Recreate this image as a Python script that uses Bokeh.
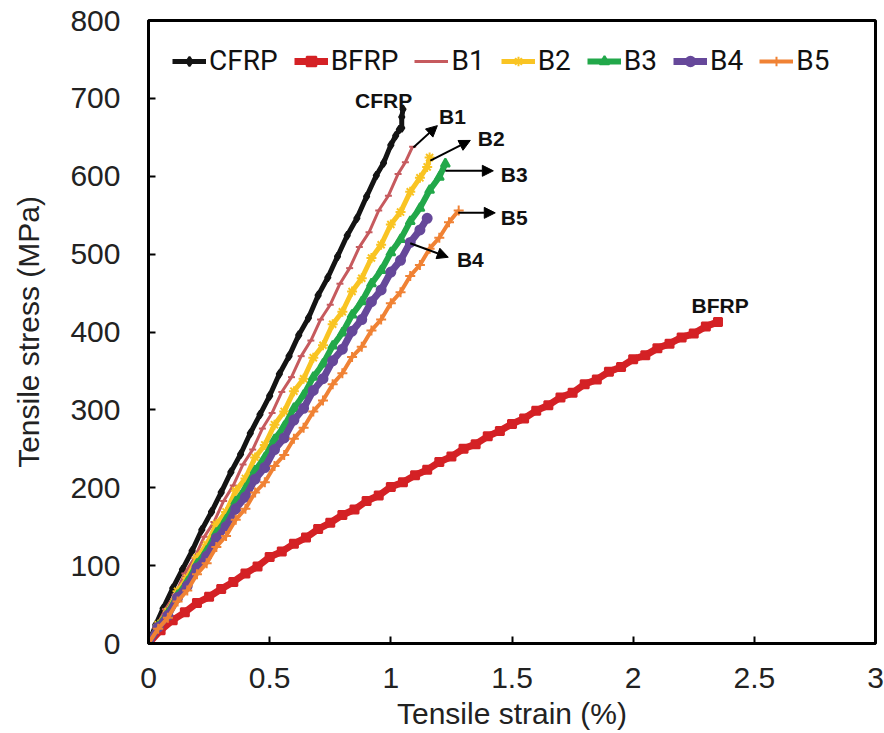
from bokeh.plotting import figure
from bokeh.models import (Range1d, FixedTicker, CustomJSTickFormatter, Legend, LegendItem,
                          Label, Arrow, NormalHead)
from bokeh.embed import file_html
from bokeh.resources import INLINE

# ---------------- data ----------------
cfrp_x = [0, 0.03, 0.06, 0.10, 0.14, 0.18, 0.22, 0.26, 0.30, 0.34, 0.38, 0.42, 0.46, 0.50, 0.54, 0.58,
          0.62, 0.66, 0.70, 0.74, 0.78, 0.82, 0.86, 0.90, 0.94, 0.97, 1.00, 1.02, 1.035, 1.045, 1.045, 1.05]
cfrp_y = [0, 24, 45, 71, 95, 119, 146, 169, 194, 220, 243, 270, 294, 318, 346, 369,
          396, 418, 447, 470, 497, 524, 546, 574, 601, 617, 640, 652, 660, 662, 676, 686]

bfrp_x = [0.00, 0.05, 0.10, 0.15, 0.20, 0.25, 0.30, 0.35, 0.40, 0.45, 0.50, 0.55, 0.60, 0.65, 0.70, 0.75,
          0.80, 0.85, 0.90, 0.95, 1.00, 1.05, 1.10, 1.15, 1.20, 1.25, 1.30, 1.35, 1.40, 1.45, 1.50, 1.55,
          1.60, 1.65, 1.70, 1.75, 1.80, 1.85, 1.90, 1.95, 2.00, 2.05, 2.10, 2.15, 2.20, 2.25, 2.30, 2.35]
bfrp_y = [0, 17, 30, 40, 52, 60, 70, 79, 90, 99, 111, 118, 128, 136, 147, 155,
          165, 172, 183, 190, 201, 207, 216, 223, 233, 240, 250, 256, 266, 273, 282, 289,
          299, 306, 316, 322, 333, 339, 349, 355, 365, 370, 379, 385, 393, 398, 407, 413]

b1_x = [0, 0.03, 0.07, 0.11, 0.15, 0.19, 0.23, 0.27, 0.31, 0.35, 0.39, 0.43, 0.47, 0.51, 0.55, 0.59,
        0.63, 0.67, 0.71, 0.75, 0.79, 0.83, 0.87, 0.91, 0.95, 0.99, 1.03, 1.06, 1.09]
b1_y = [0, 20, 44, 63, 90, 110, 137, 156, 183, 203, 230, 249, 276, 296, 323, 342,
        369, 389, 416, 435, 462, 482, 509, 528, 556, 575, 603, 618, 638]

b2_x = [0, 0.04, 0.08, 0.12, 0.16, 0.20, 0.24, 0.28, 0.32, 0.36, 0.40, 0.44, 0.48, 0.52, 0.56, 0.60,
        0.64, 0.68, 0.72, 0.76, 0.80, 0.84, 0.88, 0.92, 0.96, 1.00, 1.04, 1.08, 1.12, 1.15, 1.16]
b2_y = [0, 24, 41, 67, 84, 110, 127, 153, 169, 196, 212, 239, 255, 281, 298, 324,
        340, 367, 383, 410, 426, 452, 469, 495, 512, 538, 554, 580, 598, 612, 624]

b3_x = [0, 0.04, 0.08, 0.12, 0.16, 0.20, 0.24, 0.28, 0.32, 0.36, 0.40, 0.44, 0.48, 0.52, 0.56, 0.60,
        0.64, 0.68, 0.72, 0.76, 0.80, 0.84, 0.88, 0.92, 0.96, 1.00, 1.04, 1.08, 1.12, 1.16, 1.20, 1.225]
b3_y = [0, 22, 39, 62, 79, 102, 119, 142, 159, 182, 199, 222, 239, 262, 279, 302,
        319, 342, 359, 382, 399, 422, 439, 462, 479, 502, 519, 542, 559, 582, 599, 616]

b4_x = [0, 0.04, 0.08, 0.12, 0.16, 0.20, 0.24, 0.28, 0.32, 0.36, 0.40, 0.44, 0.48, 0.52, 0.56, 0.60,
        0.64, 0.68, 0.72, 0.76, 0.80, 0.84, 0.88, 0.92, 0.96, 1.00, 1.04, 1.08, 1.12, 1.15]
b4_y = [0, 21, 36, 59, 74, 97, 112, 135, 150, 173, 188, 211, 226, 249, 264, 287,
        302, 325, 340, 363, 378, 401, 416, 439, 454, 477, 492, 515, 531, 546]

b5_x = [0, 0.04, 0.08, 0.12, 0.16, 0.20, 0.24, 0.28, 0.32, 0.36, 0.40, 0.44, 0.48, 0.52, 0.56, 0.60,
        0.64, 0.68, 0.72, 0.76, 0.80, 0.84, 0.88, 0.92, 0.96, 1.00, 1.04, 1.08, 1.12, 1.16, 1.20, 1.24, 1.28]
b5_y = [0, 19, 33, 54, 68, 89, 103, 124, 138, 159, 173, 194, 207, 228, 242, 263,
        277, 298, 312, 333, 347, 368, 381, 402, 416, 437, 451, 472, 486, 507, 521, 541, 556]

series_names = ["CFRP", "BFRP", "B1", "B2", "B3", "B4", "B5"]
x_ticks = [0, 0.5, 1, 1.5, 2, 2.5, 3]
y_ticks = [0, 100, 200, 300, 400, 500, 600, 700, 800]

# annotation labels: (text, x, y) and arrows: (x_start, y_start, x_end, y_end)
note_text = ["CFRP", "B1", "B2", "B3", "B5", "B4", "BFRP"]
note_x = [0.97, 1.254, 1.414, 1.509, 1.509, 1.328, 2.359]
note_y = [697, 677, 648, 602, 547, 493, 434]
arrow_x0 = [1.093, 1.163, 1.225, 1.278, 1.080]
arrow_y0 = [637, 620, 607, 553, 514]
arrow_x1 = [1.192, 1.328, 1.423, 1.431, 1.237]
arrow_y1 = [665, 646, 607, 553, 496]

# ---------------- figure ----------------
p = figure(width=884, height=733, output_backend="svg", toolbar_location=None,
           x_range=Range1d(0, 3), y_range=Range1d(0, 800),
           min_border_left=148, min_border_right=9, min_border_top=20, min_border_bottom=90)
p.background_fill_color = "white"
p.border_fill_color = "white"
p.grid.visible = False
p.outline_line_color = "black"
p.outline_line_width = 3

FONT = "Liberation Sans"
for ax in (p.xaxis[0], p.yaxis[0]):
    ax.axis_line_width = 3
    ax.axis_line_color = "black"
    ax.major_tick_in = 7
    ax.major_tick_out = 0
    ax.major_tick_line_width = 2
    ax.minor_tick_line_color = None
    ax.major_label_text_font = FONT
    ax.major_label_text_font_size = "30px"
    ax.major_label_text_color = "#222222"
    ax.axis_label_text_font = FONT
    ax.axis_label_text_font_size = "30px"
    ax.axis_label_text_font_style = "normal"
    ax.axis_label_text_color = "#222222"

p.xaxis.ticker = FixedTicker(ticks=x_ticks)
p.yaxis.ticker = FixedTicker(ticks=y_ticks)
p.xaxis.formatter = CustomJSTickFormatter(code="return tick.toString();")
p.yaxis.formatter = CustomJSTickFormatter(code="return tick.toString();")
p.xaxis.axis_label = "Tensile strain (%)"
p.yaxis.axis_label = "Tensile stress (MPa)"
p.xaxis.major_label_standoff = 24
p.yaxis.major_label_standoff = 28
p.xaxis.axis_label_standoff = 6
p.yaxis.axis_label_standoff = 22

styles = {
    "CFRP": dict(x=cfrp_x, y=cfrp_y, color="#141414", lw=5, marker="diamond", size=8),
    "BFRP": dict(x=bfrp_x, y=bfrp_y, color="#d42125", lw=7, marker="square", size=8),
    "B1": dict(x=b1_x, y=b1_y, color="#c65a5e", lw=3, marker="dash", size=7),
    "B2": dict(x=b2_x, y=b2_y, color="#f9c423", lw=5, marker="asterisk", size=10),
    "B3": dict(x=b3_x, y=b3_y, color="#22a84a", lw=6, marker="triangle", size=9),
    "B4": dict(x=b4_x, y=b4_y, color="#66489a", lw=7, marker="circle", size=9),
    "B5": dict(x=b5_x, y=b5_y, color="#f08234", lw=4, marker="cross", size=10),
}

items = []
for name in series_names:
    s = styles[name]
    r1 = p.line(s["x"], s["y"], line_color=s["color"], line_width=s["lw"])
    r2 = p.scatter(s["x"], s["y"], marker=s["marker"], size=s["size"],
                   line_color=s["color"], fill_color=s["color"], line_width=2)
    items.append(LegendItem(label=name, renderers=[r1, r2]))

legend = Legend(items=items, orientation="horizontal", location=(24, 566),
                glyph_width=34, glyph_height=24, label_standoff=3, spacing=16,
                padding=0, margin=0, border_line_color=None, background_fill_alpha=0,
                label_text_font="Roboto", label_text_font_size="28px",
                label_text_color="#111111")
p.add_layout(legend, "center")

for t, x, y in zip(note_text, note_x, note_y):
    p.add_layout(Label(x=x, y=y, text=t, text_font=FONT, text_font_size="21px",
                       text_font_style="bold", text_color="#111111",
                       text_align="center", text_baseline="middle"))

for x0, y0, x1, y1 in zip(arrow_x0, arrow_y0, arrow_x1, arrow_y1):
    p.add_layout(Arrow(x_start=x0, y_start=y0, x_end=x1, y_end=y1, line_width=2,
                       line_color="black",
                       end=NormalHead(size=11, fill_color="black", line_color="black")))

open("out.html", "w").write(file_html(p, INLINE))
